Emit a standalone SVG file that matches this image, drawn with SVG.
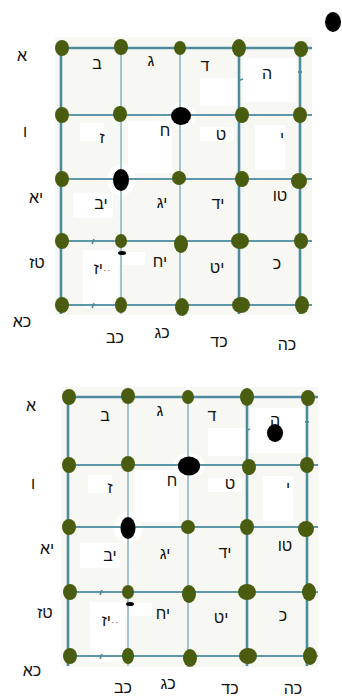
<svg xmlns="http://www.w3.org/2000/svg" width="342" height="698" viewBox="0 0 342 698">
<style>
  .bg { fill: #f7f7f3; }
  .patch { fill: #ffffff; }
  .frame { stroke: #4d8c9d; stroke-width: 2.6; fill: none; }
  .hline { stroke: #5e97a7; stroke-width: 2.2; fill: none; }
  .vline { stroke: #a3c4cc; stroke-width: 2; fill: none; }
  .tick { stroke: #4d8c9d; stroke-width: 1.6; }
  .dot { fill: #4a5c10; }
  .blk { fill: #000000; }
  .lbl { font-family: "Liberation Sans", Arial, sans-serif; font-size: 16px; fill: #111111; text-anchor: middle; }
  .dots { fill: #777777; font-size: 11px; }
</style>

<!-- ================= TOP GRID ================= -->
<g id="grid-top">
  <rect class="bg" x="55" y="37" width="257" height="278"/>
  <g id="patches-top">
    <rect class="patch" x="243" y="58" width="53" height="44"/>
    <rect class="patch" x="200" y="78" width="38" height="28"/>
    <rect class="patch" x="128" y="121" width="44" height="52"/>
    <rect class="patch" x="80" y="123" width="24" height="18"/>
    <rect class="patch" x="200" y="127" width="34" height="14"/>
    <rect class="patch" x="255" y="125" width="30" height="45"/>
    <rect class="patch" x="73" y="193" width="40" height="25"/>
    <rect class="patch" x="83" y="250" width="35" height="58"/>
    <rect class="patch" x="117" y="252" width="28" height="13"/>
    <ellipse class="patch" cx="181" cy="116" rx="15" ry="13"/>
    <ellipse class="patch" cx="121" cy="180" rx="14" ry="16"/>
  </g>
  <g id="connectors-top">
    <line class="vline" x1="121" y1="48" x2="121" y2="314"/>
    <line class="vline" x1="180" y1="48" x2="180" y2="314"/>
    <line class="frame" x1="239" y1="48" x2="239" y2="314"/>
    <line class="hline" x1="61" y1="115" x2="312" y2="115"/>
    <line class="hline" x1="61" y1="179" x2="312" y2="179"/>
    <line class="hline" x1="61" y1="241" x2="312" y2="241"/>
    <line class="hline" x1="61" y1="305" x2="312" y2="305"/>
    <line class="frame" x1="61" y1="48" x2="312" y2="48"/>
    <line class="frame" x1="61" y1="48" x2="61" y2="314"/>
    <line class="frame" x1="300" y1="48" x2="300" y2="314"/>
    <line class="tick" x1="298" y1="72" x2="302" y2="72"/>
    <line class="tick" x1="240" y1="80" x2="243" y2="79"/>
    <line class="tick" x1="92" y1="244" x2="94" y2="239"/>
    <line class="tick" x1="92" y1="308" x2="94" y2="303"/>
  </g>
  <g id="nodes-top">
    <ellipse id="t-n11" class="dot" cx="62" cy="48" rx="7" ry="8"/>
    <ellipse id="t-n12" class="dot" cx="121" cy="47" rx="7" ry="8"/>
    <ellipse id="t-n13" class="dot" cx="180" cy="48" rx="6" ry="7"/>
    <ellipse id="t-n14" class="dot" cx="239" cy="48" rx="7" ry="9"/>
    <ellipse id="t-n15" class="dot" cx="301" cy="49" rx="7" ry="8"/>
    <ellipse id="t-n21" class="dot" cx="62" cy="115" rx="7" ry="8"/>
    <ellipse id="t-n22" class="dot" cx="120" cy="114" rx="7" ry="8"/>
    <ellipse id="t-n23" class="blk" cx="181" cy="116" rx="10" ry="9"/>
    <ellipse id="t-n24" class="dot" cx="242" cy="115" rx="7" ry="8"/>
    <ellipse id="t-n25" class="dot" cx="300" cy="115" rx="7" ry="8"/>
    <ellipse id="t-n31" class="dot" cx="62" cy="179" rx="7" ry="8"/>
    <ellipse id="t-n32" class="blk" cx="121" cy="180" rx="8" ry="11"/>
    <ellipse id="t-n33" class="dot" cx="179" cy="178" rx="7" ry="7"/>
    <ellipse id="t-n34" class="dot" cx="242" cy="179" rx="7" ry="8"/>
    <ellipse id="t-n35" class="dot" cx="299" cy="181" rx="8" ry="8"/>
    <ellipse id="t-n41" class="dot" cx="62" cy="241" rx="7" ry="8"/>
    <ellipse id="t-n42" class="dot" cx="121" cy="241" rx="6" ry="7"/>
    <ellipse id="t-n42b" class="blk" cx="122" cy="253" rx="4" ry="2"/>
    <ellipse id="t-n43" class="dot" cx="181" cy="244" rx="7" ry="9"/>
    <ellipse id="t-n44" class="dot" cx="240" cy="241" rx="9" ry="8"/>
    <ellipse id="t-n45" class="dot" cx="301" cy="241" rx="7" ry="8"/>
    <ellipse id="t-n51" class="dot" cx="62" cy="305" rx="7" ry="8"/>
    <ellipse id="t-n52" class="dot" cx="121" cy="305" rx="6" ry="8"/>
    <ellipse id="t-n53" class="dot" cx="182" cy="307" rx="7" ry="9"/>
    <ellipse id="t-n54" class="dot" cx="241" cy="305" rx="9" ry="8"/>
    <ellipse id="t-n55" class="dot" cx="302" cy="305" rx="7" ry="9"/>
    <ellipse id="t-marker" class="blk" cx="333" cy="22" rx="8" ry="10"/>
  </g>
  <g id="labels-top">
    <text class="lbl" x="22" y="61">א</text>
    <text class="lbl" x="25" y="137">ו</text>
    <text class="lbl" x="36" y="203">יא</text>
    <text class="lbl" x="37" y="268">טז</text>
    <text class="lbl" x="22" y="327">כא</text>
    <text class="lbl" x="115" y="343">כב</text>
    <text class="lbl" x="162" y="338">כג</text>
    <text class="lbl" x="219" y="347">כד</text>
    <text class="lbl" x="287" y="350">כה</text>
    <text class="lbl" x="97" y="69">ב</text>
    <text class="lbl" x="151" y="66">ג</text>
    <text class="lbl" x="205" y="71">ד</text>
    <text class="lbl" x="267" y="79">ה</text>
    <text class="lbl" x="102" y="143">ז</text>
    <text class="lbl" x="165" y="136">ח</text>
    <text class="lbl" x="221" y="140">ט</text>
    <text class="lbl" x="282" y="143">י</text>
    <text class="lbl" x="101" y="209">יב</text>
    <text class="lbl" x="162" y="208">יג</text>
    <text class="lbl" x="218" y="209">יד</text>
    <text class="lbl" x="280" y="201">טו</text>
    <text class="lbl" x="102" y="274">יז<tspan class="dots">··</tspan></text>
    <text class="lbl" x="160" y="267">יח</text>
    <text class="lbl" x="217" y="273">יט</text>
    <text class="lbl" x="277" y="269">כ</text>
  </g>
</g>

<!-- ================= BOTTOM GRID ================= -->
<g id="grid-bottom">
  <rect class="bg" x="61" y="387" width="257" height="280"/>
  <g id="patches-bottom">
    <rect class="patch" x="250" y="408" width="55" height="45"/>
    <rect class="patch" x="208" y="428" width="38" height="28"/>
    <rect class="patch" x="135" y="470" width="44" height="52"/>
    <rect class="patch" x="88" y="475" width="24" height="18"/>
    <rect class="patch" x="208" y="478" width="34" height="14"/>
    <rect class="patch" x="263" y="476" width="30" height="45"/>
    <rect class="patch" x="80" y="543" width="40" height="25"/>
    <rect class="patch" x="90" y="602" width="35" height="60"/>
    <rect class="patch" x="124" y="603" width="28" height="13"/>
    <ellipse class="patch" cx="189" cy="466" rx="16" ry="13"/>
    <ellipse class="patch" cx="128" cy="528" rx="14" ry="16"/>
  </g>
  <g id="connectors-bottom">
    <line class="vline" x1="128" y1="397" x2="128" y2="666"/>
    <line class="vline" x1="188" y1="397" x2="188" y2="666"/>
    <line class="frame" x1="247" y1="397" x2="247" y2="666"/>
    <line class="hline" x1="68" y1="465" x2="318" y2="465"/>
    <line class="hline" x1="68" y1="527" x2="318" y2="527"/>
    <line class="hline" x1="68" y1="592" x2="318" y2="592"/>
    <line class="hline" x1="68" y1="656" x2="318" y2="656"/>
    <line class="frame" x1="68" y1="397" x2="318" y2="397"/>
    <line class="frame" x1="68" y1="397" x2="68" y2="666"/>
    <line class="frame" x1="307" y1="397" x2="307" y2="666"/>
    <line class="tick" x1="305" y1="422" x2="309" y2="422"/>
    <line class="tick" x1="247" y1="430" x2="250" y2="429"/>
    <line class="tick" x1="100" y1="595" x2="102" y2="590"/>
    <line class="tick" x1="100" y1="659" x2="102" y2="654"/>
  </g>
  <g id="nodes-bottom">
    <ellipse id="b-n11" class="dot" cx="69" cy="397" rx="7" ry="8"/>
    <ellipse id="b-n12" class="dot" cx="128" cy="396" rx="7" ry="8"/>
    <ellipse id="b-n13" class="dot" cx="188" cy="397" rx="6" ry="7"/>
    <ellipse id="b-n14" class="dot" cx="247" cy="397" rx="7" ry="9"/>
    <ellipse id="b-n15" class="dot" cx="308" cy="398" rx="7" ry="8"/>
    <ellipse id="b-n21" class="dot" cx="69" cy="465" rx="7" ry="8"/>
    <ellipse id="b-n22" class="dot" cx="128" cy="464" rx="7" ry="8"/>
    <ellipse id="b-n23" class="blk" cx="189" cy="466" rx="11" ry="9.5"/>
    <ellipse id="b-n24" class="dot" cx="249" cy="467" rx="7" ry="8"/>
    <ellipse id="b-n25" class="dot" cx="307" cy="465" rx="7" ry="8"/>
    <ellipse id="b-n31" class="dot" cx="69" cy="527" rx="7" ry="8"/>
    <ellipse id="b-n32" class="blk" cx="128" cy="528" rx="7.5" ry="11"/>
    <ellipse id="b-n33" class="dot" cx="188" cy="527" rx="7" ry="7"/>
    <ellipse id="b-n34" class="dot" cx="247" cy="527" rx="7" ry="8"/>
    <ellipse id="b-n35" class="dot" cx="306" cy="529" rx="8" ry="8"/>
    <ellipse id="b-n41" class="dot" cx="70" cy="592" rx="7" ry="8"/>
    <ellipse id="b-n42" class="dot" cx="128" cy="592" rx="6" ry="7"/>
    <ellipse id="b-n42b" class="blk" cx="130" cy="604" rx="4" ry="2"/>
    <ellipse id="b-n43" class="dot" cx="189" cy="594" rx="7" ry="9"/>
    <ellipse id="b-n44" class="dot" cx="247" cy="592" rx="9" ry="8"/>
    <ellipse id="b-n45" class="dot" cx="309" cy="592" rx="7" ry="9"/>
    <ellipse id="b-n51" class="dot" cx="70" cy="656" rx="7" ry="8"/>
    <ellipse id="b-n52" class="dot" cx="128" cy="656" rx="6" ry="8"/>
    <ellipse id="b-n53" class="dot" cx="190" cy="658" rx="7" ry="9"/>
    <ellipse id="b-n54" class="dot" cx="248" cy="656" rx="9" ry="8"/>
    <ellipse id="b-n55" class="dot" cx="310" cy="656" rx="7" ry="9"/>
  </g>
  <g id="labels-bottom">
    <text class="lbl" x="31" y="411">א</text>
    <text class="lbl" x="33" y="489">ו</text>
    <text class="lbl" x="47" y="554">יא</text>
    <text class="lbl" x="45" y="618">טז</text>
    <text class="lbl" x="32" y="676">כא</text>
    <text class="lbl" x="123" y="693">כב</text>
    <text class="lbl" x="168" y="689">כג</text>
    <text class="lbl" x="230" y="694">כד</text>
    <text class="lbl" x="293" y="694">כה</text>
    <text class="lbl" x="105" y="421">ב</text>
    <text class="lbl" x="160" y="416">ג</text>
    <text class="lbl" x="212" y="421">ד</text>
    <text class="lbl" x="275" y="426">ה</text>
    <text class="lbl" x="110" y="493">ז</text>
    <text class="lbl" x="172" y="486">ח</text>
    <text class="lbl" x="230" y="489">ט</text>
    <text class="lbl" x="288" y="493">י</text>
    <text class="lbl" x="110" y="561">יב</text>
    <text class="lbl" x="165" y="559">יג</text>
    <text class="lbl" x="225" y="558">יד</text>
    <text class="lbl" x="285" y="551">טו</text>
    <text class="lbl" x="110" y="626">יז<tspan class="dots">··</tspan></text>
    <text class="lbl" x="163" y="619">יח</text>
    <text class="lbl" x="221" y="623">יט</text>
    <text class="lbl" x="283" y="621">כ</text>
  </g>
  <ellipse id="b-marker" class="blk" cx="275" cy="433" rx="8" ry="9"/>
</g>
</svg>
